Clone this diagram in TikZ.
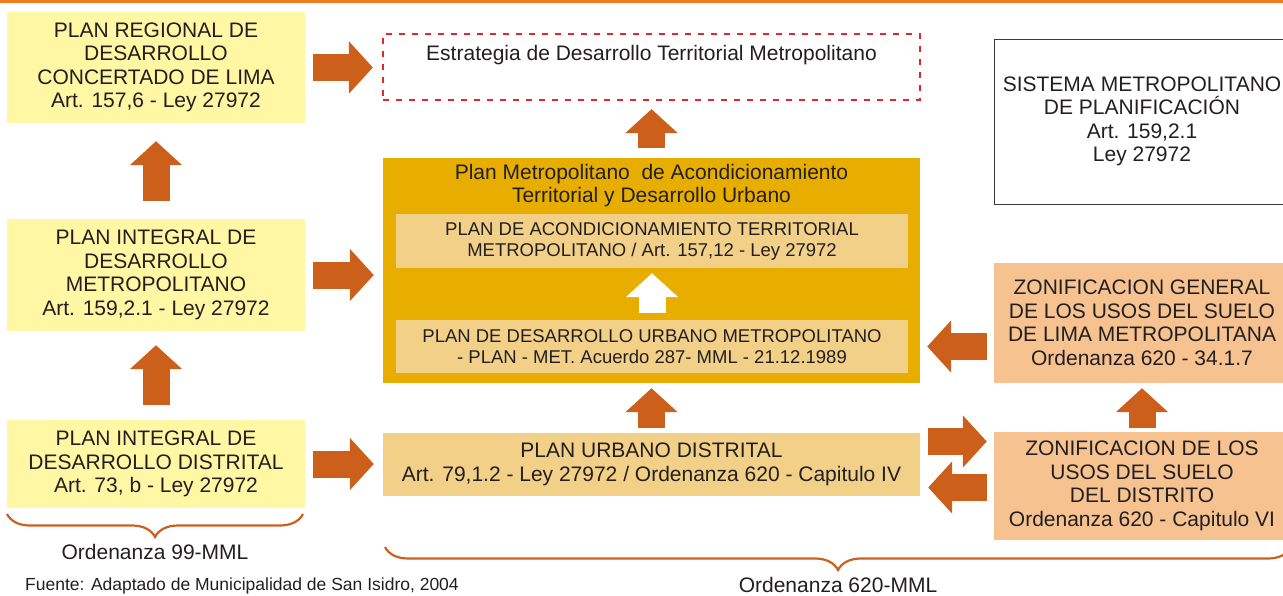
\documentclass[tikz,border=0pt]{standalone}
\usepackage{fontspec}
\setmainfont{Liberation Sans}
\usetikzlibrary{arrows.meta,decorations.pathreplacing}
\definecolor{topc}{HTML}{EE7D22}
\definecolor{yelc}{HTML}{FFF7A3}
\definecolor{goldc}{HTML}{E7AE00}
\definecolor{palec}{HTML}{F2D088}
\definecolor{salc}{HTML}{F6C390}
\definecolor{arrowc}{HTML}{CC601A}
\definecolor{bracec}{HTML}{CC6020}
\definecolor{dashc}{HTML}{E3262B}
\definecolor{bordc}{HTML}{3A3A3A}
\definecolor{txtc}{HTML}{231F20}
\tikzset{
  plbox/.style={rectangle,inner sep=0pt,align=center,text=txtc,font=\fontsize{21}{23.5}\selectfont},
  subbox/.style={plbox,fill=palec,font=\fontsize{18.5}{21}\selectfont},
  fatarrow/.style={draw=arrowc,line width=27pt,-{Triangle[length=24pt,width=51pt]}},
  ordbrace/.style={draw=bracec,line width=2.2pt,decorate,decoration={brace,mirror,amplitude=23pt}}
}
\begin{document}
\begin{tikzpicture}[x=1pt,y=-1pt]
  \useasboundingbox (0,0) rectangle (1283,595);
  \fill[topc] (0,0) rectangle (1283,3);
  % left column
  \node[plbox,fill=yelc,minimum width=298pt,minimum height=111pt] (prdc) at (156,67.5)
    {PLAN REGIONAL DE\\DESARROLLO\\CONCERTADO DE LIMA\\Art. 157,6 - Ley 27972};
  \node[plbox,fill=yelc,minimum width=298pt,minimum height=112pt] (pidm) at (156,275)
    {PLAN INTEGRAL DE\\DESARROLLO\\METROPOLITANO\\Art. 159,2.1 - Ley 27972};
  \node[plbox,fill=yelc,minimum width=298pt,minimum height=88pt] (pidd) at (156,464)
    {PLAN INTEGRAL DE\\DESARROLLO DISTRITAL\\Art. 73, b - Ley 27972};
  % center column
  \node[plbox,draw=dashc,line width=2.2pt,dash pattern=on 6pt off 7pt,minimum width=537pt,minimum height=66pt,
    label={[plbox,anchor=north,yshift=-12pt]north:Estrategia de Desarrollo Territorial Metropolitano}] (edt) at (651.5,67) {};
  \node[plbox,fill=goldc,minimum width=537pt,minimum height=225pt] (pmat) at (651.5,270.5) {};
  \node[plbox] (pmtitle) at (651.5,185.5)
    {Plan Metropolitano\ \ de Acondicionamiento\\Territorial y Desarrollo Urbano};
  \node[subbox,minimum width=512pt,minimum height=54pt] (patm) at (652,241)
    {PLAN DE ACONDICIONAMIENTO TERRITORIAL\\METROPOLITANO / Art. 157,12 - Ley 27972};
  \node[subbox,minimum width=512pt,minimum height=53pt] (pdum) at (652,346.5)
    {PLAN DE DESARROLLO URBANO METROPOLITANO\\- PLAN - MET. Acuerdo 287- MML - 21.12.1989};
  \node[plbox,fill=palec,minimum width=537pt,minimum height=63pt] (pud) at (651.5,464.5)
    {PLAN URBANO DISTRITAL\\Art. 79,1.2 - Ley 27972 / Ordenanza 620 - Capitulo IV};
  % right column
  \node[plbox,draw=bordc,line width=1pt,minimum width=296pt,minimum height=165pt] (smp) at (1142,121.5)
    {SISTEMA METROPOLITANO\\DE PLANIFICACIÓN\\Art. 159,2.1\\Ley 27972};
  \node[plbox,fill=salc,minimum width=296pt,minimum height=120pt] (zg) at (1142,323)
    {ZONIFICACION GENERAL\\DE LOS USOS DEL SUELO\\DE LIMA METROPOLITANA\\Ordenanza 620 - 34.1.7};
  \node[plbox,fill=salc,minimum width=296pt,minimum height=108pt] (zd) at (1142,486)
    {ZONIFICACION DE LOS\\USOS DEL SUELO\\DEL DISTRITO\\Ordenanza 620 - Capitulo VI};
  % arrows
  \draw[fatarrow,shorten <=8pt,shorten >=9pt] (prdc.east) -- (prdc.east -| edt.west);
  \draw[fatarrow,shorten <=8pt,shorten >=9pt] (pidm.east) -- (pidm.east -| pmat.west);
  \draw[fatarrow,shorten <=8pt,shorten >=9pt] (pidd.east) -- (pidd.east -| pud.west);
  \draw[fatarrow,shorten <=18pt,shorten >=18pt] (pidm.north) -- (prdc.south);
  \draw[fatarrow,shorten <=15pt,shorten >=14pt] (pidd.north) -- (pidm.south);
  \draw[fatarrow,shorten <=10pt,shorten >=8pt] (pmat.north) -- (edt.south);
  \draw[fatarrow,draw=white,shorten <=7pt,shorten >=5pt] (pdum.north) -- (patm.south);
  \draw[fatarrow,shorten <=5pt,shorten >=5pt] (pud.north) -- (pmat.south);
  \draw[fatarrow,shorten <=7pt,shorten >=7pt] (zg.west |- pdum.center) -- (pmat.east |- pdum.center);
  \draw[fatarrow,shorten <=8pt,shorten >=7pt] ([yshift=23pt]pud.east) -- ([yshift=23pt]pud.east -| zd.west);
  \draw[fatarrow,shorten <=7pt,shorten >=8pt] ([yshift=-23pt]pud.east -| zd.west) -- ([yshift=-23pt]pud.east);
  \draw[fatarrow,shorten <=4pt,shorten >=5pt] (zd.north) -- (zg.south);
  % braces
  \draw[ordbrace] (7,514) -- (303,514);
  \node[plbox] (ord99) at (155,552) {Ordenanza 99-MML};
  \draw[ordbrace] (385,547) -- (1291,547);
  \node[plbox] (ord620) at (838,585) {Ordenanza 620-MML};
  \node[plbox,font=\fontsize{17.5}{20}\selectfont,anchor=base west] (fuente) at (25,590)
    {Fuente: Adaptado de Municipalidad de San Isidro, 2004};
\end{tikzpicture}
\end{document}
